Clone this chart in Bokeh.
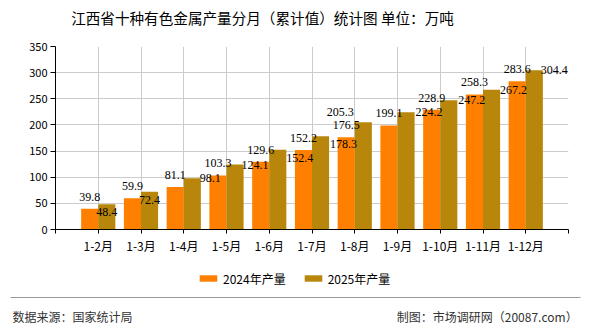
import numpy as np
from bokeh.plotting import figure
from bokeh.layouts import column
from bokeh.models import (ColumnDataSource, LabelSet, Label, Legend, LegendItem,
                          FixedTicker, Range1d)
from bokeh.embed import file_html
from bokeh.resources import INLINE

# ---- data ----
months = ["1-2月", "1-3月", "1-4月", "1-5月", "1-6月", "1-7月", "1-8月",
          "1-9月", "1-10月", "1-11月", "1-12月"]
prod_2024 = [39.8, 59.9, 81.1, 103.3, 129.6, 152.2, 176.5, 199.1, 228.9, 258.3, 283.6]
prod_2025 = [48.4, 72.4, 98.1, 124.1, 152.4, 178.3, 205.3, 224.2, 247.2, 267.2, 304.4]
y_ticks = [0, 50, 100, 150, 200, 250, 300, 350]
series_names = ["2024年产量", "2025年产量"]

title_text = "江西省十种有色金属产量分月（累计值）统计图 单位：万吨"
source_text = "数据来源：国家统计局"
credit_text = "制图：市场调研网（20087.com）"

# label layout (pixel offsets, style only)
lbl25_dx = [0, 0, 18, 20, 22, 23, -23, 23, 23, 22, 20]
lbl25_dy = [-8, -8, 0, 0, -8, -8, 10, 0, 0, 0, 0]

FONT = "Noto Sans CJK SC"
C24 = "#FF8000"
C25 = "#B8860B"
W = 590


def bare(height):
    f = figure(width=W, height=height, output_backend="svg", toolbar_location=None,
               x_axis_type=None, y_axis_type=None,
               x_range=Range1d(0, W), y_range=Range1d(0, height),
               min_border=0, min_border_left=0, min_border_right=0,
               min_border_top=0, min_border_bottom=0, frame_align=False)
    f.outline_line_color = None
    f.xgrid.visible = False
    f.ygrid.visible = False
    f.background_fill_color = "white"
    f.border_fill_color = "white"
    return f


# ---- header ----
HEAD_H = 34
head = bare(HEAD_H)
head.add_layout(Label(x=W / 2 - 33, y=HEAD_H - 17, x_units="screen", y_units="screen",
                      text=title_text, text_align="center", text_baseline="middle",
                      text_font=FONT, text_font_size="14.6px", text_color="black"))

# ---- main chart ----
pos = list(range(1, len(months) + 1))
src = ColumnDataSource(dict(
    pos=pos,
    x24=[p - 0.2 for p in pos],
    x25=[p + 0.2 for p in pos],
    v24=prod_2024,
    v25=prod_2025,
    t24=[f"{v:.1f}" for v in prod_2024],
    t25=[f"{v:.1f}" for v in prod_2025],
    dx25=lbl25_dx,
    dy25=lbl25_dy,
))

p = figure(width=W, height=236, output_backend="svg", toolbar_location=None,
           x_range=Range1d(0, len(months) + 1), y_range=Range1d(0, 350),
           min_border_left=55, min_border_right=22, min_border_top=12,
           min_border_bottom=41, frame_align=False)
p.outline_line_color = None
p.background_fill_color = "white"
p.border_fill_color = "white"

p.vbar(x="x24", top="v24", width=0.4, source=src, fill_color=C24, line_color=None)
p.vbar(x="x25", top="v25", width=0.4, source=src, fill_color=C25, line_color=None)

p.xaxis.ticker = FixedTicker(ticks=[0] + pos + [len(months) + 1])
overrides = {0: "", len(months) + 1: ""}
overrides.update({i + 1: m for i, m in enumerate(months)})
p.xaxis.major_label_overrides = overrides
p.xaxis.major_tick_in = 0
p.xaxis.major_tick_out = 4
p.xaxis.minor_tick_line_color = None
p.xaxis.axis_line_color = "black"
p.xaxis.major_tick_line_color = "black"
p.xaxis.major_label_text_font = FONT
p.xaxis.major_label_text_font_size = "12px"
p.xaxis.major_label_text_color = "black"
p.xaxis.major_label_standoff = 3

p.yaxis.ticker = FixedTicker(ticks=y_ticks)
p.yaxis.major_tick_in = 0
p.yaxis.major_tick_out = 5
p.yaxis.minor_tick_line_color = None
p.yaxis.axis_line_color = "black"
p.yaxis.major_tick_line_color = "black"
p.yaxis.major_label_text_font = FONT
p.yaxis.major_label_text_font_size = "11px"
p.yaxis.major_label_text_color = "black"
p.yaxis.major_label_standoff = 3

p.xgrid.grid_line_color = "#cccccc"
p.ygrid.grid_line_color = "#cccccc"
p.xgrid.ticker = FixedTicker(ticks=pos + [len(months) + 1])

p.add_layout(LabelSet(x="x24", y="v24", text="t24", source=src, x_offset=0, y_offset=12,
                      text_align="center", text_baseline="middle",
                      text_font=FONT, text_font_size="12px", text_color="black"))
p.add_layout(LabelSet(x="x25", y="v25", text="t25", source=src, x_offset="dx25",
                      y_offset="dy25", text_align="center", text_baseline="middle",
                      text_font=FONT, text_font_size="12px", text_color="black"))

# ---- footer with legend ----
FOOT_H = 60
foot = bare(FOOT_H)
dummy = ColumnDataSource(dict(x=np.array([np.nan]), top=np.array([np.nan])))
l24 = foot.vbar(x="x", top="top", width=1, source=dummy, fill_color=C24, line_color=None)
l25 = foot.vbar(x="x", top="top", width=1, source=dummy, fill_color=C25, line_color=None)
legend = Legend(items=[LegendItem(label=series_names[0], renderers=[l24]),
                       LegendItem(label=series_names[1], renderers=[l25])],
                orientation="horizontal", location=(197, 43),
                glyph_width=22, glyph_height=8, label_height=18,
                label_standoff=4, spacing=16, padding=0, margin=0,
                border_line_color=None, background_fill_alpha=0,
                label_text_font=FONT, label_text_font_size="12px",
                label_text_color="black")
foot.add_layout(legend, "center")
# separator rule across the footer (footer ranges are in pixels)
foot.segment(x0=[10], x1=[580], y0=[FOOT_H - 27], y1=[FOOT_H - 27],
             line_color="#999999", line_width=1)
foot.add_layout(Label(x=12, y=FOOT_H - 46, x_units="screen", y_units="screen",
                      text=source_text, text_align="left", text_baseline="middle",
                      text_font=FONT, text_font_size="12px", text_color="#333333"))
foot.add_layout(Label(x=577, y=FOOT_H - 46, x_units="screen", y_units="screen",
                      text=credit_text, text_align="right", text_baseline="middle",
                      text_font=FONT, text_font_size="12px", text_color="#333333"))

layout = column(head, p, foot, spacing=0)
open("out.html", "w").write(file_html(layout, INLINE))
